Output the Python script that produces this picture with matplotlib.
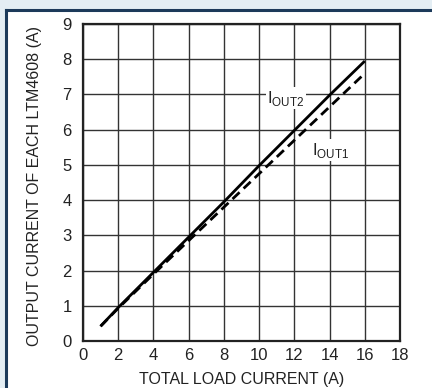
import numpy as np
import matplotlib.pyplot as plt
from matplotlib.patches import Rectangle

# data
load_current = [1, 2, 4, 6, 8, 10, 12, 14, 16]
iout2 = [0.42, 0.95, 1.95, 2.95, 3.95, 4.98, 5.98, 6.98, 7.95]
iout1 = [0.42, 0.93, 1.90, 2.85, 3.80, 4.75, 5.70, 6.65, 7.60]

fam = 'Liberation Sans'
plt.rcParams['font.family'] = [fam, 'DejaVu Sans']
plt.rcParams['mathtext.fontset'] = 'custom'
plt.rcParams['mathtext.rm'] = fam

fig = plt.figure(figsize=(4.32, 3.88), dpi=100)
fig.patch.set_facecolor('white')

# light blue strip and dark frame like the scanned page
fig.patches.append(Rectangle((0, 0.975), 1, 0.025, transform=fig.transFigure,
                             facecolor='#e4eef4', edgecolor='none', zorder=0))
fig.patches.append(Rectangle((0, 0), 0.012, 1, transform=fig.transFigure,
                             facecolor='#e4eef4', edgecolor='none', zorder=0))
fig.add_artist(plt.Line2D([0.014, 0.014], [0, 0.975], transform=fig.transFigure,
                          color='#1c3a5a', lw=2.2))
fig.add_artist(plt.Line2D([0.014, 1], [0.974, 0.974], transform=fig.transFigure,
                          color='#1c3a5a', lw=2.2))

ax = fig.add_axes([0.192, 0.121, 0.734, 0.817])
ax.plot(load_current, iout2, color='black', lw=2.0, solid_capstyle='butt')
ax.plot(load_current, iout1, color='black', lw=2.0, ls=(0, (3.5, 2)))

ax.set_xlim(0, 18)
ax.set_ylim(0, 9)
ax.set_xticks(np.arange(0, 19, 2))
ax.set_yticks(np.arange(0, 10, 1))
ax.grid(True, color='#333333', lw=1.0)
ax.set_axisbelow(True)
ax.tick_params(length=0, labelsize=12, pad=5, colors='#222222')
ax.tick_params(axis='y', pad=8)
for s in ax.spines.values():
    s.set_linewidth(1.6)
    s.set_color('#222222')

fig.text(0.56, 0.003, 'TOTAL LOAD CURRENT (A)', fontsize=11.5, ha='center', va='bottom',
         color='#222222')
fig.text(0.080, 0.52, 'OUTPUT CURRENT OF EACH LTM4608 (A)', fontsize=11.5, rotation=90,
         ha='center', va='center', color='#222222')

ax.text(10.45, 6.9, r'I$_{\mathregular{OUT2}}$', fontsize=12, va='center', ha='left',
        color='#222222', bbox=dict(facecolor='white', edgecolor='none', pad=1))
ax.text(13.0, 5.42, r'I$_{\mathregular{OUT1}}$', fontsize=12, va='center', ha='left',
        color='#222222', bbox=dict(facecolor='white', edgecolor='none', pad=1))

fig.savefig('out.png', dpi=100)
